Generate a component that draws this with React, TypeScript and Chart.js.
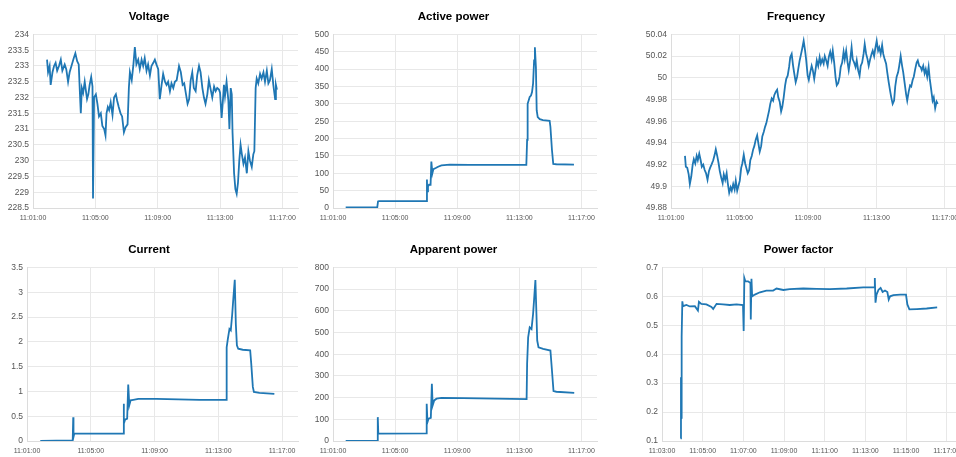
import React, { useEffect, useRef } from "react";
import { Chart, registerables } from "chart.js";

Chart.register(...registerables);

// ---------- tick labels ----------
const mainXTicks = ["11:01:00", "11:05:00", "11:09:00", "11:13:00", "11:17:00"];
const pfXTicks = ["11:03:00", "11:05:00", "11:07:00", "11:09:00", "11:11:00", "11:13:00", "11:15:00", "11:17:00"];
const xAxisEnd = "11:18:00";

const voltageYTicks = [228.5, 229, 229.5, 230, 230.5, 231, 231.5, 232, 232.5, 233, 233.5, 234];
const activeYTicks = [0, 50, 100, 150, 200, 250, 300, 350, 400, 450, 500];
const freqYTicks = [49.88, 49.9, 49.92, 49.94, 49.96, 49.98, 50, 50.02, 50.04];
const currentYTicks = [0, 0.5, 1, 1.5, 2, 2.5, 3, 3.5];
const apparentYTicks = [0, 100, 200, 300, 400, 500, 600, 700, 800];
const pfYTicks = [0.1, 0.2, 0.3, 0.4, 0.5, 0.6, 0.7];

// ---------- Voltage ----------
const voltageTimes = [
  "11:01:54", "11:01:58", "11:02:04", "11:02:08", "11:02:15", "11:02:21", "11:02:27", "11:02:33", "11:02:40", "11:02:47",
  "11:02:53", "11:03:02", "11:03:08", "11:03:15", "11:03:21", "11:03:28", "11:03:37", "11:03:43", "11:03:50", "11:03:56",
  "11:04:00", "11:04:04", "11:04:08", "11:04:13", "11:04:19", "11:04:23", "11:04:28", "11:04:33", "11:04:38", "11:04:44",
  "11:04:49", "11:04:51", "11:04:55", "11:05:02", "11:05:08", "11:05:14", "11:05:21", "11:05:27", "11:05:34", "11:05:39",
  "11:05:43", "11:05:48", "11:05:53", "11:05:59", "11:06:06", "11:06:12", "11:06:19", "11:06:24", "11:06:30", "11:06:37",
  "11:06:43", "11:06:50", "11:06:56", "11:07:04", "11:07:09", "11:07:13", "11:07:20", "11:07:26", "11:07:32", "11:07:38",
  "11:07:45", "11:07:51", "11:07:58", "11:08:04", "11:08:10", "11:08:17", "11:08:23", "11:08:30", "11:08:36", "11:08:43",
  "11:08:49", "11:08:55", "11:09:02", "11:09:08", "11:09:15", "11:09:21", "11:09:28", "11:09:34", "11:09:40", "11:09:47",
  "11:09:53", "11:10:00", "11:10:06", "11:10:13", "11:10:22", "11:10:29", "11:10:36", "11:10:42", "11:10:49", "11:10:55",
  "11:11:01", "11:11:07", "11:11:13", "11:11:19", "11:11:26", "11:11:32", "11:11:39", "11:11:45", "11:11:52", "11:11:58",
  "11:12:04", "11:12:11", "11:12:17", "11:12:24", "11:12:30", "11:12:37", "11:12:43", "11:12:49", "11:12:56", "11:13:00",
  "11:13:06", "11:13:10", "11:13:15", "11:13:19", "11:13:25", "11:13:32", "11:13:36", "11:13:41", "11:13:45", "11:13:48",
  "11:13:54", "11:13:59", "11:14:04", "11:14:09", "11:14:14", "11:14:19", "11:14:24", "11:14:30", "11:14:36", "11:14:43",
  "11:14:49", "11:14:55", "11:15:02", "11:15:08", "11:15:12", "11:15:17", "11:15:21", "11:15:27", "11:15:34", "11:15:40",
  "11:15:47", "11:15:53", "11:16:00", "11:16:06", "11:16:12", "11:16:19", "11:16:25", "11:16:32", "11:16:35", "11:16:39",
];
const voltageValues = [
  233.2, 232.8, 233.0, 232.4, 232.8, 233.0, 233.1, 232.85, 233.0, 233.2,
  232.85, 233.05, 232.9, 232.5, 232.8, 233.0, 233.25, 233.4, 233.15, 233.05,
  232.25, 231.5, 232.3, 232.15, 232.5, 232.25, 231.95, 232.1, 232.4, 232.65,
  232.35, 228.8, 232.0, 232.1, 231.8, 231.4, 231.5, 231.1, 231.0, 230.8,
  231.5, 231.7, 231.6, 231.85, 231.45, 232.0, 232.1, 231.9, 231.7, 231.5,
  231.4, 230.9, 231.05, 231.15, 232.3, 232.8, 232.55, 233.0, 233.6, 233.05,
  233.2, 232.9, 233.2, 233.0, 233.25, 232.85, 233.05, 232.7, 233.0, 233.1,
  233.2, 233.05, 232.9, 231.95, 232.4, 232.75, 232.5, 232.4, 232.5, 232.2,
  232.45, 232.3, 232.5, 232.55, 233.0, 232.8, 232.4, 232.45, 232.1, 231.8,
  231.95, 232.55, 232.8, 232.3, 232.2, 232.7, 233.0, 232.8, 232.3, 232.0,
  231.8, 232.1, 232.55, 232.25, 232.0, 232.35, 232.2, 232.3, 232.25, 232.15,
  231.35, 231.8, 232.4, 232.05, 232.5, 231.9, 231.0, 232.3, 232.1, 230.9,
  229.6, 229.1, 228.95, 229.3, 230.0, 230.5, 230.2, 229.9, 230.1, 229.6,
  230.3, 230.0, 229.8, 230.2, 230.3, 232.3, 232.6, 232.45, 232.75, 232.6,
  232.8, 232.5, 232.85, 232.45, 232.55, 232.9, 232.4, 231.95, 232.4, 232.25,
];

// ---------- Active power ----------
const activeTimes = [
  "11:01:49", "11:03:51", "11:03:54", "11:03:58", "11:07:01", "11:07:03", "11:07:04", "11:07:07", "11:07:11", "11:07:17",
  "11:07:20", "11:07:24", "11:07:28", "11:07:37", "11:07:46", "11:07:59", "11:08:31", "11:09:48", "11:13:27", "11:13:30",
  "11:13:31", "11:13:33", "11:13:40", "11:13:45", "11:13:49", "11:13:53", "11:13:57", "11:14:00", "11:14:04", "11:14:07",
  "11:14:11", "11:14:19", "11:14:31", "11:14:57", "11:15:00", "11:15:06", "11:15:11", "11:15:23", "11:16:31",
];
const activeValues = [
  2, 2, 19, 20, 20, 82, 48, 62, 67, 67,
  134, 100, 112, 115, 119, 123, 125, 124, 124, 196,
  253, 300, 320, 324, 334, 358, 425, 463, 405, 281,
  262, 256, 253, 251, 234, 167, 127, 126, 125,
];

// ---------- Frequency ----------
const freqTimes = [
  "11:01:49", "11:01:52", "11:01:57", "11:02:02", "11:02:06", "11:02:11", "11:02:16", "11:02:20", "11:02:25", "11:02:30",
  "11:02:34", "11:02:39", "11:02:44", "11:02:48", "11:02:53", "11:02:58", "11:03:03", "11:03:08", "11:03:13", "11:03:17",
  "11:03:22", "11:03:28", "11:03:33", "11:03:37", "11:03:42", "11:03:47", "11:03:51", "11:03:56", "11:04:01", "11:04:05",
  "11:04:10", "11:04:15", "11:04:19", "11:04:24", "11:04:29", "11:04:33", "11:04:38", "11:04:43", "11:04:47", "11:04:52",
  "11:04:56", "11:05:01", "11:05:06", "11:05:10", "11:05:15", "11:05:20", "11:05:24", "11:05:29", "11:05:34", "11:05:38",
  "11:05:43", "11:05:48", "11:05:52", "11:05:57", "11:06:02", "11:06:06", "11:06:11", "11:06:16", "11:06:20", "11:06:25",
  "11:06:30", "11:06:34", "11:06:39", "11:06:44", "11:06:48", "11:06:53", "11:06:58", "11:07:02", "11:07:07", "11:07:12",
  "11:07:16", "11:07:21", "11:07:26", "11:07:30", "11:07:35", "11:07:40", "11:07:44", "11:07:49", "11:07:54", "11:07:58",
  "11:08:03", "11:08:08", "11:08:12", "11:08:17", "11:08:22", "11:08:26", "11:08:31", "11:08:36", "11:08:40", "11:08:45",
  "11:08:50", "11:08:54", "11:08:59", "11:09:03", "11:09:08", "11:09:13", "11:09:17", "11:09:22", "11:09:27", "11:09:31",
  "11:09:36", "11:09:41", "11:09:45", "11:09:50", "11:09:55", "11:09:59", "11:10:04", "11:10:09", "11:10:13", "11:10:18",
  "11:10:23", "11:10:27", "11:10:32", "11:10:37", "11:10:41", "11:10:46", "11:10:51", "11:10:55", "11:11:00", "11:11:05",
  "11:11:09", "11:11:14", "11:11:19", "11:11:23", "11:11:28", "11:11:33", "11:11:37", "11:11:42", "11:11:47", "11:11:51",
  "11:11:56", "11:12:01", "11:12:05", "11:12:10", "11:12:15", "11:12:19", "11:12:24", "11:12:29", "11:12:33", "11:12:38",
  "11:12:43", "11:12:47", "11:12:52", "11:12:56", "11:13:01", "11:13:06", "11:13:10", "11:13:15", "11:13:20", "11:13:24",
  "11:13:29", "11:13:34", "11:13:38", "11:13:43", "11:13:48", "11:13:52", "11:13:57", "11:14:02", "11:14:06", "11:14:11",
  "11:14:16", "11:14:20", "11:14:25", "11:14:30", "11:14:34", "11:14:39", "11:14:44", "11:14:48", "11:14:53", "11:14:58",
  "11:15:02", "11:15:07", "11:15:11", "11:15:16", "11:15:21", "11:15:25", "11:15:30", "11:15:35", "11:15:39", "11:15:44",
  "11:15:49", "11:15:53", "11:15:58", "11:16:03", "11:16:07", "11:16:12", "11:16:17", "11:16:21", "11:16:26", "11:16:31",
  "11:16:35",
];
const freqValues = [
  49.928, 49.918, 49.917, 49.911, 49.902, 49.909, 49.92, 49.925, 49.921, 49.928,
  49.924, 49.93, 49.924, 49.918, 49.92, 49.915, 49.912, 49.906, 49.914, 49.917,
  49.92, 49.924, 49.929, 49.934, 49.928, 49.921, 49.914, 49.908, 49.903, 49.911,
  49.906, 49.912, 49.903, 49.894, 49.899, 49.896, 49.902, 49.897, 49.905, 49.896,
  49.9, 49.905, 49.917, 49.921, 49.929, 49.921, 49.917, 49.912, 49.915, 49.924,
  49.928, 49.934, 49.937, 49.943, 49.947, 49.94, 49.932, 49.937, 49.946, 49.95,
  49.955, 49.958, 49.964, 49.97, 49.976, 49.981, 49.979, 49.984, 49.987, 49.989,
  49.982, 49.978, 49.969, 49.973, 49.982, 49.993, 49.999, 50.002, 50.01, 50.019,
  50.022, 50.011, 50.004, 49.996, 50.001, 50.008, 50.016, 50.022, 50.027, 50.034,
  50.025, 50.016, 50.002, 49.998, 50.005, 50.011, 50.007, 49.999, 50.008, 50.016,
  50.011, 50.019, 50.013, 50.017, 50.013, 50.02, 50.016, 50.011, 50.019, 50.024,
  50.017, 50.025, 50.014, 50.0, 49.993, 49.995, 50.001, 50.01, 50.014, 50.024,
  50.017, 50.025, 50.014, 50.007, 50.016, 50.028, 50.017, 50.014, 50.01, 50.016,
  50.007, 50.002, 50.011, 50.014, 50.022, 50.031, 50.022, 50.017, 50.011, 50.017,
  50.022, 50.025, 50.02, 50.027, 50.034, 50.025, 50.028, 50.022, 50.03, 50.022,
  50.017, 50.013, 50.005, 49.996, 49.988, 49.982, 49.976, 49.979, 49.992, 50.001,
  50.005, 50.011, 50.02, 50.011, 50.005, 49.995, 49.985, 49.979, 49.987, 49.993,
  49.992, 49.998, 50.001, 50.008, 50.014, 50.016, 50.011, 50.01, 50.007, 50.011,
  50.004, 50.008, 50.001, 50.01, 49.999, 49.989, 49.979, 49.982, 49.972, 49.978,
  49.976,
];

// ---------- Current ----------
const currentTimes = [
  "11:01:50", "11:03:52", "11:03:54", "11:03:55", "11:03:58", "11:07:02", "11:07:04", "11:07:05", "11:07:09", "11:07:17",
  "11:07:21", "11:07:25", "11:07:30", "11:07:40", "11:07:59", "11:09:07", "11:11:50", "11:13:30", "11:13:31", "11:13:32",
  "11:13:36", "11:13:42", "11:13:47", "11:13:52", "11:13:57", "11:14:02", "11:14:06", "11:14:10", "11:14:15", "11:14:32",
  "11:15:00", "11:15:04", "11:15:10", "11:15:14", "11:15:35", "11:16:31",
];
const currentValues = [
  0, 0.01, 0.48, 0.08, 0.15, 0.15, 0.75, 0.35, 0.43, 0.45,
  1.14, 0.72, 0.82, 0.83, 0.85, 0.85, 0.83, 0.83, 1.42, 1.89,
  2.06, 2.26, 2.23, 2.53, 2.9, 3.25, 2.36, 1.93, 1.86, 1.84,
  1.83, 1.56, 1.09, 0.99, 0.97, 0.95,
];

// ---------- Apparent power ----------
const apparentTimes = [
  "11:01:49", "11:03:51", "11:03:53", "11:03:55", "11:07:01", "11:07:02", "11:07:05", "11:07:09", "11:07:18", "11:07:22",
  "11:07:25", "11:07:31", "11:07:40", "11:07:59", "11:09:23", "11:13:28", "11:13:30", "11:13:34", "11:13:40", "11:13:47",
  "11:13:53", "11:13:58", "11:14:02", "11:14:06", "11:14:09", "11:14:14", "11:14:32", "11:15:00", "11:15:04", "11:15:12",
  "11:15:23", "11:16:32",
];
const apparentValues = [
  0, 0, 110, 34, 35, 172, 87, 103, 107, 264,
  164, 187, 195, 199, 198, 193, 356, 478, 524, 516,
  585, 670, 742, 585, 463, 432, 425, 417, 356, 230,
  227, 222,
];

// ---------- Power factor ----------
const pfTimes = [
  "11:03:55", "11:03:56", "11:03:57", "11:03:58", "11:04:00", "11:04:02", "11:04:12", "11:04:22", "11:04:37", "11:04:46",
  "11:04:49", "11:04:56", "11:05:11", "11:05:26", "11:05:31", "11:05:41", "11:06:00", "11:06:20", "11:06:40", "11:06:59",
  "11:07:01", "11:07:03", "11:07:06", "11:07:14", "11:07:21", "11:07:22", "11:07:24", "11:07:26", "11:07:34", "11:07:49",
  "11:08:08", "11:08:28", "11:08:38", "11:08:58", "11:09:17", "11:09:57", "11:10:36", "11:11:15", "11:12:05", "11:12:54",
  "11:13:26", "11:13:28", "11:13:30", "11:13:33", "11:13:39", "11:13:45", "11:13:51", "11:13:58", "11:14:05", "11:14:09",
  "11:14:13", "11:14:23", "11:14:43", "11:15:00", "11:15:04", "11:15:10", "11:15:32", "11:16:01", "11:16:32",
];
const pfValues = [
  0.109, 0.32, 0.18, 0.46, 0.583, 0.566, 0.57, 0.565, 0.566, 0.551,
  0.581, 0.574, 0.572, 0.563, 0.556, 0.574, 0.572, 0.57, 0.572, 0.57,
  0.48, 0.663, 0.652, 0.652, 0.646, 0.52, 0.661, 0.6, 0.606, 0.614,
  0.62, 0.62, 0.627, 0.622, 0.625, 0.627, 0.626, 0.625, 0.627, 0.631,
  0.631, 0.663, 0.578, 0.606, 0.623, 0.629, 0.615, 0.62, 0.615, 0.589,
  0.6, 0.604, 0.606, 0.606, 0.572, 0.555, 0.556, 0.558, 0.562,
];

// ---------- helpers & layout ----------
const hms = (s: string) => {
  const [h, m, sec] = s.split(":").map(Number);
  return h * 3600 + m * 60 + sec;
};

const FONT = "'Liberation Sans', Arial, Helvetica, sans-serif";
const LINE_COLOR = "#1f77b4";
const GRID_COLOR = "#e8e8e8";
const TICK_COLOR = "#555";
const CANVAS_H = 228;

type PanelSpec = {
  title: string;
  times: string[];
  values: number[];
  yTicks: number[];
  xTicks: string[];
  left: number;
  top: number;
  width: number;
  yAxisWidth: number;
  rightPad: number;
};

const panels: PanelSpec[] = [
  { title: "Voltage", times: voltageTimes, values: voltageValues, yTicks: voltageYTicks, xTicks: mainXTicks, left: 0, top: 0, width: 314, yAxisWidth: 33, rightPad: 16 },
  { title: "Active power", times: activeTimes, values: activeValues, yTicks: activeYTicks, xTicks: mainXTicks, left: 310, top: 0, width: 302, yAxisWidth: 23, rightPad: 15 },
  { title: "Frequency", times: freqTimes, values: freqValues, yTicks: freqYTicks, xTicks: mainXTicks, left: 630, top: 0, width: 356, yAxisWidth: 41, rightPad: 24 },
  { title: "Current", times: currentTimes, values: currentValues, yTicks: currentYTicks, xTicks: mainXTicks, left: 0, top: 233, width: 304, yAxisWidth: 27, rightPad: 6 },
  { title: "Apparent power", times: apparentTimes, values: apparentValues, yTicks: apparentYTicks, xTicks: mainXTicks, left: 310, top: 233, width: 298, yAxisWidth: 23, rightPad: 11 },
  { title: "Power factor", times: pfTimes, values: pfValues, yTicks: pfYTicks, xTicks: pfXTicks, left: 630, top: 233, width: 378, yAxisWidth: 32, rightPad: 41 },
];

function Panel({ p }: { p: PanelSpec }) {
  const ref = useRef<HTMLCanvasElement>(null);
  useEffect(() => {
    if (!ref.current) return;
    const xt = p.xTicks.map(hms);
    const yt = p.yTicks;
    const chart = new Chart(ref.current, {
      type: "line",
      data: {
        datasets: [
          {
            data: p.times.map((t, i) => ({ x: hms(t), y: p.values[i] })),
            borderColor: LINE_COLOR,
            borderWidth: 1.8,
            pointRadius: 0,
            tension: 0,
            fill: false,
          },
        ],
      },
      options: {
        responsive: false,
        animation: false,
        events: [],
        layout: { padding: { left: 0, right: p.rightPad, top: 0, bottom: 0 } },
        plugins: {
          legend: { display: false },
          tooltip: { enabled: false },
          title: {
            display: true,
            text: p.title,
            color: "#000",
            font: { family: FONT, size: 11.5, weight: "bold" },
            padding: { top: 10, bottom: 10.6 },
          },
        },
        scales: {
          x: {
            type: "linear",
            min: xt[0],
            max: hms(xAxisEnd),
            afterBuildTicks: (s: any) => {
              s.ticks = xt.map((v) => ({ value: v }));
            },
            afterFit: (s: any) => {
              s.height = 20;
            },
            ticks: {
              autoSkip: false,
              maxRotation: 0,
              color: TICK_COLOR,
              font: { family: FONT, size: 7 },
              padding: 6,
              callback: (_v: any, i: number) => p.xTicks[i],
            },
            grid: { color: GRID_COLOR, drawTicks: false },
            border: { color: "#dcdcdc" },
          },
          y: {
            type: "linear",
            min: yt[0],
            max: yt[yt.length - 1],
            afterBuildTicks: (s: any) => {
              s.ticks = yt.map((v) => ({ value: v }));
            },
            afterFit: (s: any) => {
              s.width = p.yAxisWidth;
            },
            ticks: {
              autoSkip: false,
              color: TICK_COLOR,
              font: { family: FONT, size: 8.5 },
              padding: 4,
              callback: (v: any) => String(v),
            },
            grid: { color: GRID_COLOR, drawTicks: false },
            border: { color: "#dcdcdc" },
          },
        },
      },
    } as any);
    return () => chart.destroy();
  }, [p]);
  return (
    <canvas
      ref={ref}
      width={p.width}
      height={CANVAS_H}
      style={{ position: "absolute", left: p.left, top: p.top, width: p.width, height: CANVAS_H }}
    />
  );
}

export default function App() {
  return (
    <div
      style={{
        position: "fixed",
        left: 0,
        top: 0,
        width: 956,
        height: 457,
        overflow: "hidden",
        background: "#fff",
      }}
    >
      {panels.map((p) => (
        <Panel key={p.title} p={p} />
      ))}
    </div>
  );
}
